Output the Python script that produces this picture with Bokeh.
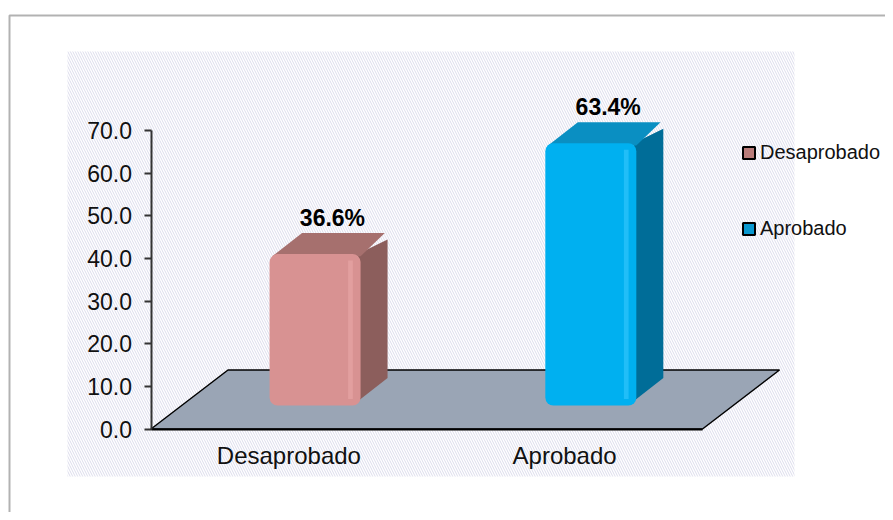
from bokeh.plotting import figure
from bokeh.models import (Range1d, LinearAxis, FixedTicker, BoxAnnotation, Legend,
                          LegendItem, NumeralTickFormatter)
from bokeh.embed import file_html
from bokeh.resources import INLINE
from bokeh.core.properties import value

# ---------------- data ----------------
categories = ["Desaprobado", "Aprobado"]
percentages = [36.6, 63.4]
value_labels = ["36.6%", "63.4%"]
y_ticks = [0, 10, 20, 30, 40, 50, 60, 70]

# ---------------- styles ----------------
front_colors = ["#D89292", "#00B0F0"]
top_colors = ["#A6706E", "#0A8FC2"]
side_colors = ["#8C5E5C", "#006D98"]
shine_colors = ["#EBAAA9", "#3CCBFF"]
legend_colors = ["#B97C7A", "#0A98CF"]
FONT = "Liberation Sans"

W, H = 885, 512
# pixel calibration of the data space (frame fills the whole canvas)
X_ORIGIN, PX_PER_X = 150.5, 275.75      # canvas x of x=0, px per x unit
Y_ORIGIN, PX_PER_Y = 428.5, 4.264       # canvas y of y=0, px per y unit

def to_x(px):
    return (px - X_ORIGIN) / PX_PER_X

def to_y(py):
    return (Y_ORIGIN - py) / PX_PER_Y

n = len(categories)
FLOOR_DX, FLOOR_DY = 77 / PX_PER_X, 59 / PX_PER_Y
BAR_LEFT, BAR_W = 0.43, 0.33
BAR_BASE = 5.51
BAR_SCALE = 0.97
DEPTH_X, DEPTH_Y = 27 / PX_PER_X, 21 / PX_PER_Y

p = figure(width=W, height=H,
           x_range=Range1d(to_x(0), to_x(W)),
           y_range=Range1d(to_y(H), to_y(0)),
           output_backend="svg", toolbar_location=None, min_border=0,
           x_axis_type=None, y_axis_type=None)
p.outline_line_color = None
p.background_fill_color = "white"
p.border_fill_color = "white"

# hatched chart area
p.add_layout(BoxAnnotation(left=to_x(67), right=to_x(794), top=to_y(51), bottom=to_y(476),
                           fill_color="white", fill_alpha=1.0, line_color=None,
                           hatch_pattern="left_diagonal_line", hatch_color="#DCDCEC",
                           hatch_scale=5, hatch_weight=1.0, level="underlay"))
# outer frame border (top / left visible)
p.add_layout(BoxAnnotation(left=to_x(9), right=to_x(1200), top=to_y(15), bottom=to_y(1200),
                           fill_alpha=0, line_color="black", line_width=2, level="underlay"))

# floor
p.patch(x=[0, n, n + FLOOR_DX, FLOOR_DX], y=[0, 0, FLOOR_DY, FLOOR_DY],
        fill_color="#9AA5B5", line_color="black", line_width=1.5)

# legend swatch renderers (sit hidden behind the front faces)
legend_renderers = []
for i, v in enumerate(percentages):
    x0 = i + BAR_LEFT
    r = p.quad(left=[x0 + 0.03], right=[x0 + BAR_W - 0.03], bottom=[BAR_BASE + 2],
               top=[BAR_BASE + v * BAR_SCALE - 2], fill_color=legend_colors[i],
               line_color="black", line_width=2)
    legend_renderers.append(r)

# 3D bars
for i, v in enumerate(percentages):
    x0 = i + BAR_LEFT
    x1 = x0 + BAR_W
    b = BAR_BASE
    t = BAR_BASE + v * BAR_SCALE
    # side face
    p.patch(x=[x1 - 0.01, x1 + DEPTH_X, x1 + DEPTH_X, x1 - 0.01],
            y=[b + 1.0, b + DEPTH_Y + 1.5, t + DEPTH_Y - 1.5, t],
            fill_color=side_colors[i], line_color=None)
    # top face
    p.patch(x=[x0 + 0.01, x0 + DEPTH_X + 0.02, x1 + DEPTH_X - 0.01, x1],
            y=[t - 0.5, t + DEPTH_Y, t + DEPTH_Y, t - 0.5],
            fill_color=top_colors[i], line_color=None)
    # front face
    p.quad(left=[x0], right=[x1], bottom=[b], top=[t], fill_color=front_colors[i],
           line_color=None, border_radius=8)
    # shine strip
    p.quad(left=[x1 - 0.045], right=[x1 - 0.028], bottom=[b + 1.5], top=[t - 1.5],
           fill_color=shine_colors[i], fill_alpha=0.55, line_color=None)

# value labels
p.text(x=[i + BAR_LEFT + BAR_W / 2 + 0.063 for i in range(n)],
       y=[BAR_BASE + v * BAR_SCALE + DEPTH_Y + 3.6 for v in percentages],
       text=value_labels, text_font=value(FONT), text_font_style="bold",
       text_font_size="23px", text_align="center", text_baseline="alphabetic",
       text_color="black")

# axes
yaxis = LinearAxis(fixed_location=0, bounds=(0, 70), ticker=FixedTicker(ticks=y_ticks),
                   formatter=NumeralTickFormatter(format="0.0"))
yaxis.axis_line_color = "#333333"
yaxis.axis_line_width = 2
yaxis.major_tick_line_color = "#333333"
yaxis.major_tick_line_width = 2
yaxis.major_tick_out = 7
yaxis.major_tick_in = 0
yaxis.minor_tick_line_color = None
yaxis.major_label_standoff = 12
yaxis.major_label_text_font = FONT
yaxis.major_label_text_font_size = "23px"
yaxis.major_label_text_color = "#111111"
p.add_layout(yaxis, "left")

cat_pos = [i + 0.5 for i in range(n)]
xaxis = LinearAxis(fixed_location=0, bounds=(0, n), ticker=FixedTicker(ticks=cat_pos),
                   major_label_overrides={c: lab for c, lab in zip(cat_pos, categories)})
xaxis.axis_line_color = "black"
xaxis.axis_line_width = 2
xaxis.major_tick_out = 0
xaxis.major_tick_in = 0
xaxis.minor_tick_line_color = None
xaxis.major_label_standoff = 13
xaxis.major_label_text_font = FONT
xaxis.major_label_text_font_size = "24px"
xaxis.major_label_text_color = "#111111"
p.add_layout(xaxis, "below")

# legend
items = [LegendItem(label=name, renderers=[r]) for name, r in zip(categories, legend_renderers)]
legend = Legend(items=items, location=(741, 272), orientation="vertical",
                border_line_color=None, background_fill_alpha=0, padding=0, margin=0,
                spacing=53, glyph_width=15, glyph_height=15, label_standoff=4,
                label_text_font=FONT, label_text_font_size="20px",
                label_text_color="#111111")
p.add_layout(legend)

open("out.html", "w").write(file_html(p, INLINE))
